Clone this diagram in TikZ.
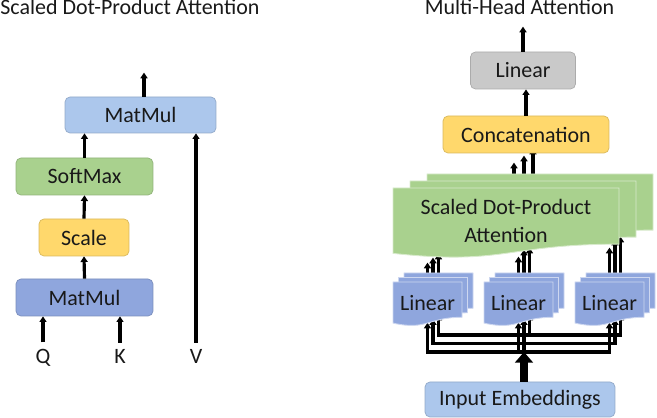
\documentclass[tikz,border=0pt]{standalone}
\usepackage{fontspec}
\setmainfont{Carlito}
\usetikzlibrary{arrows.meta,calc}
\pgfdeclarelayer{background}
\pgfsetlayers{background,main}
\definecolor{cLblue}{RGB}{172,199,236}
\definecolor{cGreen}{RGB}{169,209,142}
\definecolor{cYel}{RGB}{255,216,108}
\definecolor{cPur}{RGB}{143,166,221}
\definecolor{cGray}{RGB}{201,201,201}
\definecolor{cTxt}{RGB}{25,25,25}
\tikzset{
  box/.style={rounded corners=0.1cm, draw=#1!85!black, fill=#1, line width=0.4pt,
    font=\fontsize{12.5}{15}\selectfont, text=cTxt, inner sep=0pt},
  lbl/.style={font=\fontsize{12.5}{15}\selectfont, text=cTxt, inner sep=0pt},
  arr/.style={line width=1.8pt, -{Triangle[width=4pt,length=3.2pt]}},
  busline/.style={line width=1.6pt},
  bigarr/.style={line width=4.6pt, -{Triangle[width=10pt,length=6pt]}},
}
% name, left, top, width, height, colour, text
\newcommand{\docpage}[7]{%
  \pgfmathsetmacro\dpR{#2+#4}\pgfmathsetmacro\dpM{#2+0.5*#4}%
  \pgfmathsetmacro\dpA{#3+0.802*#5}\pgfmathsetmacro\dpB{#3+1.107*#5}%
  \pgfmathsetmacro\dpC{#3+0.934*#5}\pgfmathsetmacro\dpY{#3+0.47*#5}%
  \filldraw[fill=#6, draw=white!55!#6, line width=0.5pt] (#2,#3) -- (\dpR,#3) -- (\dpR,\dpA)
    .. controls (\dpM,\dpA) and (\dpM,\dpB) .. (#2,\dpC) -- cycle;
  \node[lbl, align=center, minimum width={#4*0.02cm}, minimum height={#5*0.94*0.02cm}] (#1) at (\dpM,\dpY) {#7};
}
\begin{document}
\begin{tikzpicture}[x=0.02cm, y=-0.02cm]
\useasboundingbox (0,0) rectangle (657,418);
% ---------- left: scaled dot-product attention ----------
\node[lbl, anchor=base west] (t1) at (0,15) {Scaled Dot-Product Attention};
\node[box=cLblue, minimum width=3.02cm, minimum height=0.72cm] (mm2) at (140.5,115) {MatMul};
\node[box=cGreen, minimum width=2.74cm, minimum height=0.74cm] (softmax) at (84.5,176.5) {SoftMax};
\node[box=cYel, minimum width=1.8cm, minimum height=0.74cm] (scale) at (84,237.5) {Scale};
\node[box=cPur, minimum width=2.74cm, minimum height=0.74cm] (mm1) at (84.5,297.5) {MatMul};
\node[lbl, anchor=base] (q) at (43,364) {Q};
\node[lbl, anchor=base] (k) at (120,364) {K};
\node[lbl, anchor=base] (v) at (196,364) {V};
\draw[arr] (mm1.north) -- (scale.south);
\draw[arr] (scale.north) -- (softmax.south);
\draw[arr] (softmax.north) -- (softmax.north |- mm2.south);
\draw[arr] ([xshift=0.07cm]mm2.north) -- ++(0,-24);
\draw[arr] ([yshift=0.14cm]q.north) -- (q.north |- mm1.south);
\draw[arr] ([yshift=0.14cm]k.north) -- (k.north |- mm1.south);
\draw[arr] ([yshift=0.14cm]v.north) -- (v.north |- mm2.south);
% ---------- right: multi-head attention ----------
\node[lbl, anchor=base] (t2) at (519.5,15) {Multi-Head Attention};
\node[box=cGray, minimum width=2.1cm, minimum height=0.74cm] (lin) at (523,70.5) {Linear};
\node[box=cYel, minimum width=3.32cm, minimum height=0.74cm] (concat) at (526,134.5) {Concatenation};
\draw[arr] (lin.north) -- ++(0,-25);
\draw[arr] (concat.north) -- (concat.north |- lin.south);
% stacked attention pages
\docpage{sdpa3}{427}{174}{226}{70}{cGreen}{}
\docpage{sdpa2}{410}{181}{226}{70}{cGreen}{}
\docpage{sdpa1}{393}{188}{226}{70}{cGreen}{Scaled Dot-Product\\[1pt]Attention}
% stacked linear pages
\docpage{linAc}{404}{273}{69}{44}{cPur}{}
\docpage{linAb}{398.5}{277.5}{69}{44}{cPur}{}
\docpage{linAa}{393}{282}{69}{44}{cPur}{Linear}
\docpage{linBc}{495}{273}{69}{44}{cPur}{}
\docpage{linBb}{489.5}{277.5}{69}{44}{cPur}{}
\docpage{linBa}{484}{282}{69}{44}{cPur}{Linear}
\docpage{linCc}{586}{273}{69}{44}{cPur}{}
\docpage{linCb}{580.5}{277.5}{69}{44}{cPur}{}
\docpage{linCa}{575}{282}{69}{44}{cPur}{Linear}
\node[box=cLblue, minimum width=3.8cm, minimum height=0.7cm] (inemb) at (520,399.5) {Input Embeddings};
\coordinate (ja) at (524,352);
\coordinate (jb) at (524,343.5);
\coordinate (jc) at (529.5,335);
\begin{pgfonlayer}{background}
  % attention -> concatenation
  \draw[arr] ([xshift=0.16cm]sdpa1.north) -- ++(0,-25);
  \draw[arr] ([xshift=0.02cm]sdpa2.north) -- ++(0,-25);
  \draw[arr] ([xshift=-0.14cm]sdpa3.north) -- ++(0,-25);
  % linear -> attention
  \draw[arr] (linAa.north) -- ++(0,-19);
  \draw[arr] (linAb.north) -- ++(0,-19.5);
  \draw[arr] (linAc.north) -- ++(0,-19);
  \draw[arr] (linBa.north) -- ++(0,-25);
  \draw[arr] (linBb.north) -- ++(0,-27.5);
  \draw[arr] (linBc.north) -- ++(0,-25);
  \draw[arr] (linCa.north) -- ++(0,-34);
  \draw[arr] (linCb.north) -- ++(0,-37.5);
  \draw[arr] (linCc.north) -- ++(0,-36);
  % embeddings -> linear
  \draw[arr] (ja) -| ([yshift=0.02cm]linAa.south);
  \draw[arr] (ja) -| ([yshift=0.02cm]linCa.south);
  \draw[arr] (linBa.south |- ja) -- ([yshift=0.02cm]linBa.south);
  \draw[arr] (jb) -| (linAb.south);
  \draw[arr] (jb) -| (linCb.south);
  \draw[arr] (ja) -- (linBb.south);
  \draw[arr] (jc) -| (linAc.south);
  \draw[arr] (jc) -| (linCc.south);
  \draw[arr] (jc) -- (linBc.south);
\end{pgfonlayer}
\draw[bigarr] (inemb.north -| ja) -- (ja);
\end{tikzpicture}
\end{document}
